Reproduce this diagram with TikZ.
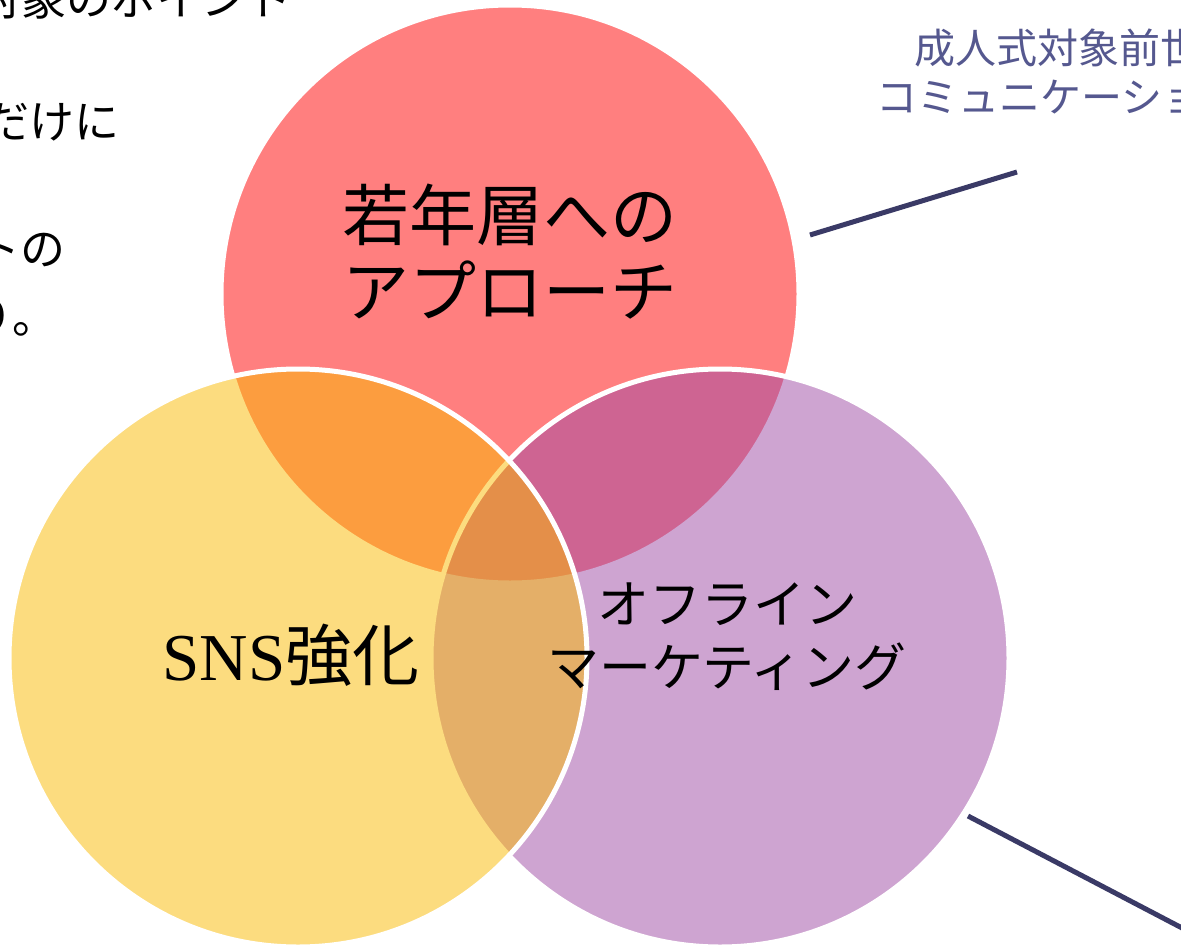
\documentclass[tikz,border=0pt]{standalone}
\usepackage{fontspec}
\newfontfamily\jp{Noto Sans CJK JP}
\newfontfamily\lat{Liberation Serif}
\definecolor{cred}{RGB}{255,0,0}
\definecolor{cyel}{RGB}{251,187,1}
\definecolor{cpur}{RGB}{159,75,165}
\definecolor{cline}{RGB}{58,58,102}
\definecolor{ctext}{RGB}{85,88,143}
\begin{document}
\begin{tikzpicture}[x=1pt,y=-1pt,
  venn/.style={draw=white,line width=5pt,fill opacity=0.5,draw opacity=1},
  conn/.style={draw=cline,line width=5pt},
  big/.style={font=\jp\fontsize{67}{76}\selectfont,align=center,text=black,inner sep=0pt},
  mid/.style={font=\jp\fontsize{52}{63}\selectfont,align=center,text=black,inner sep=0pt},
  side/.style={font=\jp\fontsize{41}{49}\selectfont,text=ctext,inner sep=0pt,anchor=west},
  body/.style={font=\jp\fontsize{45}{52}\selectfont,text=black,inner sep=0pt,anchor=east}]
\clip (0,0) rectangle (1181,945);
\fill[white] (0,0) rectangle (1181,945);
% circles
\draw[venn,fill=cred] (510,294) circle[radius=289pt];
\draw[venn,fill=cpur] (720,658) circle[radius=289pt];
\draw[venn,fill=cyel] (298,658) circle[radius=289pt];
% labels
\node[big] (young) at (510,252) {若年層への\\アプローチ};
\node[big] (sns) at (291,655) {{\lat SNS}強化};
\node[mid] (offline) at (727,637) {オフライン\\マーケティング};
% side text
\node[side] (note1) at (914,48) {成人式対象前世代};
\node[side] (note2) at (876,97) {コミュニケーション};
% left text
\node[body] (l1) at (292,-2) {対象のポイント};
\node[body] (l2) at (120,121) {年齢だけに};
\node[body] (l3) at (66,249) {イベントの};
\node[body] (l4) at (58,317) {となり。};
% connectors
\coordinate (a1) at (810,235);
\coordinate (a2) at (1017,172);
\coordinate (b1) at (968,816);
\coordinate (b2) at (1205,940);
\draw[conn] (a1) -- (a2);
\draw[conn] (b1) -- (b2);
\end{tikzpicture}
\end{document}
